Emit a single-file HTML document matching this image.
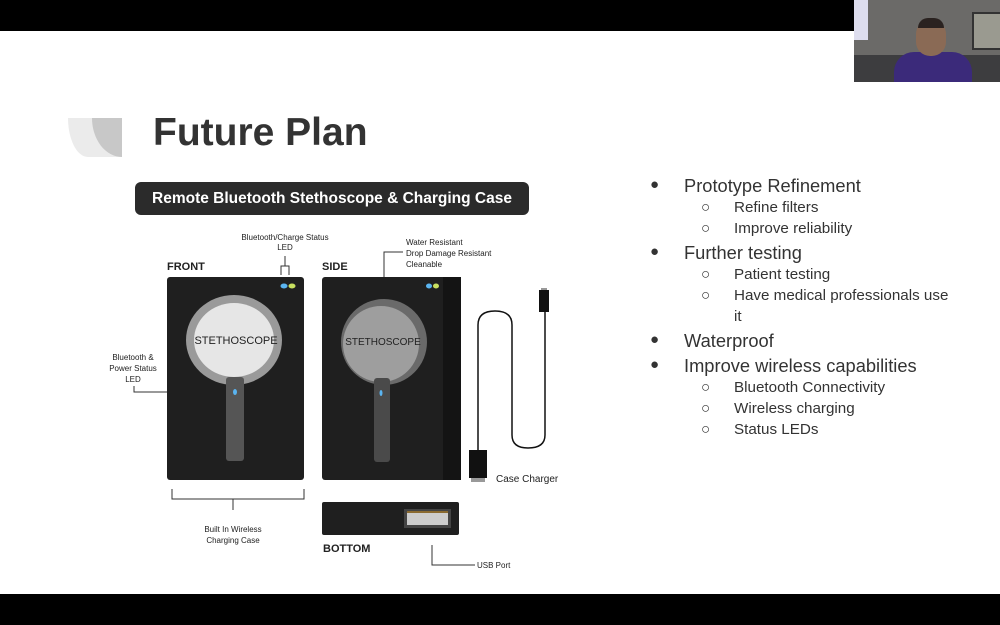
<!DOCTYPE html>
<html><head><style>
body{margin:0;width:1000px;height:625px;position:relative;background:#fff;font-family:"Liberation Sans",sans-serif;overflow:hidden;color:#333}
.a{position:absolute;white-space:nowrap}
.b{font-size:18.3px;color:#333}
.s{font-size:15.2px;color:#333}
.d{position:absolute;font-size:15px}
</style></head><body>
<div class="a" style="left:0;top:0;width:1000px;height:31px;background:#000"></div>
<div class="a" style="left:0;top:594px;width:1000px;height:31px;background:#000"></div>
<!-- webcam -->
<div class="a" style="left:854px;top:0;width:146px;height:82px;background:#6b6a68;overflow:hidden">
 <div class="a" style="left:0;top:55px;width:146px;height:27px;background:#3d3d3f"></div>
 <div class="a" style="left:40px;top:52px;width:78px;height:30px;background:#3b2a7a;border-radius:20px 20px 0 0"></div>
 <div class="a" style="left:62px;top:20px;width:30px;height:36px;background:#8a6a55;border-radius:14px"></div>
 <div class="a" style="left:64px;top:18px;width:26px;height:10px;background:#2a2220;border-radius:10px 10px 0 0"></div>
 <div class="a" style="left:118px;top:12px;width:28px;height:34px;background:#9a9a90;border:2px solid #333"></div>
 <div class="a" style="left:0;top:0;width:14px;height:40px;background:#dde"></div>
</div>
<!-- logo -->
<div class="a" style="left:68px;top:118px;width:54px;height:39px;background:#ebebeb;border-bottom-left-radius:20px 39px"></div>
<div class="a" style="left:92px;top:118px;width:30px;height:39px;background:#c8c8c8;border-bottom-left-radius:30px 39px"></div>
<div class="a" style="left:153px;top:111px;font-size:39px;font-weight:bold;color:#333">Future Plan</div>
<!-- banner -->
<div class="a" style="left:135px;top:182px;width:394px;height:33px;background:#2b2b2b;border-radius:6px;color:#fff;font-weight:bold;font-size:15.5px;line-height:33px;text-align:center">Remote Bluetooth Stethoscope &amp; Charging Case</div>
<svg class="a" style="left:0;top:0" width="1000" height="625">
 <g font-family="Liberation Sans, sans-serif" fill="#222">
 <text x="167" y="270" font-size="11" font-weight="bold">FRONT</text>
 <text x="322" y="270" font-size="11" font-weight="bold">SIDE</text>
 <text x="323" y="552" font-size="11" font-weight="bold">BOTTOM</text>
 <text x="285" y="240" font-size="8" text-anchor="middle">Bluetooth/Charge Status</text>
 <text x="285" y="250" font-size="8" text-anchor="middle">LED</text>
 <text x="406" y="245" font-size="8">Water Resistant</text>
 <text x="406" y="256" font-size="8">Drop Damage Resistant</text>
 <text x="406" y="267" font-size="8">Cleanable</text>
 <text x="133" y="360" font-size="8" text-anchor="middle">Bluetooth &amp;</text>
 <text x="133" y="371" font-size="8" text-anchor="middle">Power Status</text>
 <text x="133" y="382" font-size="8" text-anchor="middle">LED</text>
 <text x="233" y="532" font-size="8" text-anchor="middle">Built In Wireless</text>
 <text x="233" y="543" font-size="8" text-anchor="middle">Charging Case</text>
 <text x="477" y="568" font-size="8">USB Port</text>
 <text x="496" y="482" font-size="10">Case Charger</text>
 </g>
 <g stroke="#333" stroke-width="1" fill="none">
 <path d="M281 275V266H289V275"/><path d="M285 266V256"/>
 <path d="M384 295V252H403"/>
 <path d="M134 386V392H233"/>
 <path d="M172 489V499H304V489M233 499V510"/>
 <path d="M432 545V565H475"/>
 </g>
 <rect x="167" y="277" width="137" height="203" rx="3" fill="#1f1f1f"/>
 <ellipse cx="284" cy="286" rx="3.5" ry="2.5" fill="#5ab4f0"/><ellipse cx="292" cy="286" rx="3.5" ry="2.5" fill="#c8e060"/>
 <ellipse cx="234" cy="340" rx="48" ry="45" fill="#9a9a9a"/>
 <ellipse cx="234" cy="340" rx="40" ry="37" fill="#e6e6e6"/>
 <rect x="226" y="377" width="18" height="84" rx="3" fill="#555"/>
 <ellipse cx="235" cy="392" rx="2" ry="3" fill="#5ab4f0"/>
 <text x="236" y="344" font-family="Liberation Sans, sans-serif" font-size="11" text-anchor="middle" fill="#222">STETHOSCOPE</text>
 <rect x="322" y="277" width="139" height="203" rx="3" fill="#1f1f1f"/>
 <rect x="443" y="277" width="18" height="203" fill="#141414"/>
 <ellipse cx="429" cy="286" rx="3" ry="2.5" fill="#5ab4f0"/><ellipse cx="436" cy="286" rx="3" ry="2.5" fill="#c8e060"/>
 <circle cx="384" cy="342" r="43" fill="#6a6a6a"/>
 <circle cx="381" cy="344" r="38" fill="#9e9e9e"/>
 <rect x="374" y="378" width="16" height="84" rx="3" fill="#4a4a4a"/>
 <ellipse cx="381" cy="393" rx="1.5" ry="3" fill="#5ab4f0"/>
 <text x="383" y="345" font-family="Liberation Sans, sans-serif" font-size="10" text-anchor="middle" fill="#222">STETHOSCOPE</text>
 <path d="M478 452V325Q478 311 495 311Q512 311 512 325V435Q512 448 528 448Q545 448 545 435V312" stroke="#111" stroke-width="1.5" fill="none"/>
 <rect x="469" y="450" width="18" height="28" fill="#111"/>
 <rect x="471" y="478" width="14" height="4" fill="#999"/>
 <rect x="539" y="290" width="10" height="22" fill="#111"/>
 <rect x="541" y="288" width="6" height="2" fill="#999"/>
 <rect x="322" y="502" width="137" height="33" rx="2" fill="#1f1f1f"/>
 <rect x="404" y="509" width="47" height="19" fill="#444"/>
 <rect x="407" y="512" width="41" height="13" fill="#ccc"/>
 <rect x="407" y="511" width="41" height="2" fill="#8a6a30"/>
</svg>
<div class="d" style="left:650px;top:176px">●</div><div class="a b" style="left:684px;top:175px">Prototype Refinement</div>
<div class="a s" style="left:701px;top:199px">○</div><div class="a s" style="left:734px;top:199px">Refine filters</div>
<div class="a s" style="left:701px;top:220px">○</div><div class="a s" style="left:734px;top:220px">Improve reliability</div>
<div class="d" style="left:650px;top:243px">●</div><div class="a b" style="left:684px;top:242px">Further testing</div>
<div class="a s" style="left:701px;top:266px">○</div><div class="a s" style="left:734px;top:266px">Patient testing</div>
<div class="a s" style="left:701px;top:287px">○</div><div class="a s" style="left:734px;top:287px">Have medical professionals use</div>
<div class="a s" style="left:734px;top:308px">it</div>
<div class="d" style="left:650px;top:331px">●</div><div class="a b" style="left:684px;top:330px">Waterproof</div>
<div class="d" style="left:650px;top:356px">●</div><div class="a b" style="left:684px;top:355px">Improve wireless capabilities</div>
<div class="a s" style="left:701px;top:379px">○</div><div class="a s" style="left:734px;top:379px">Bluetooth Connectivity</div>
<div class="a s" style="left:701px;top:400px">○</div><div class="a s" style="left:734px;top:400px">Wireless charging</div>
<div class="a s" style="left:701px;top:421px">○</div><div class="a s" style="left:734px;top:421px">Status LEDs</div>
</body></html>
